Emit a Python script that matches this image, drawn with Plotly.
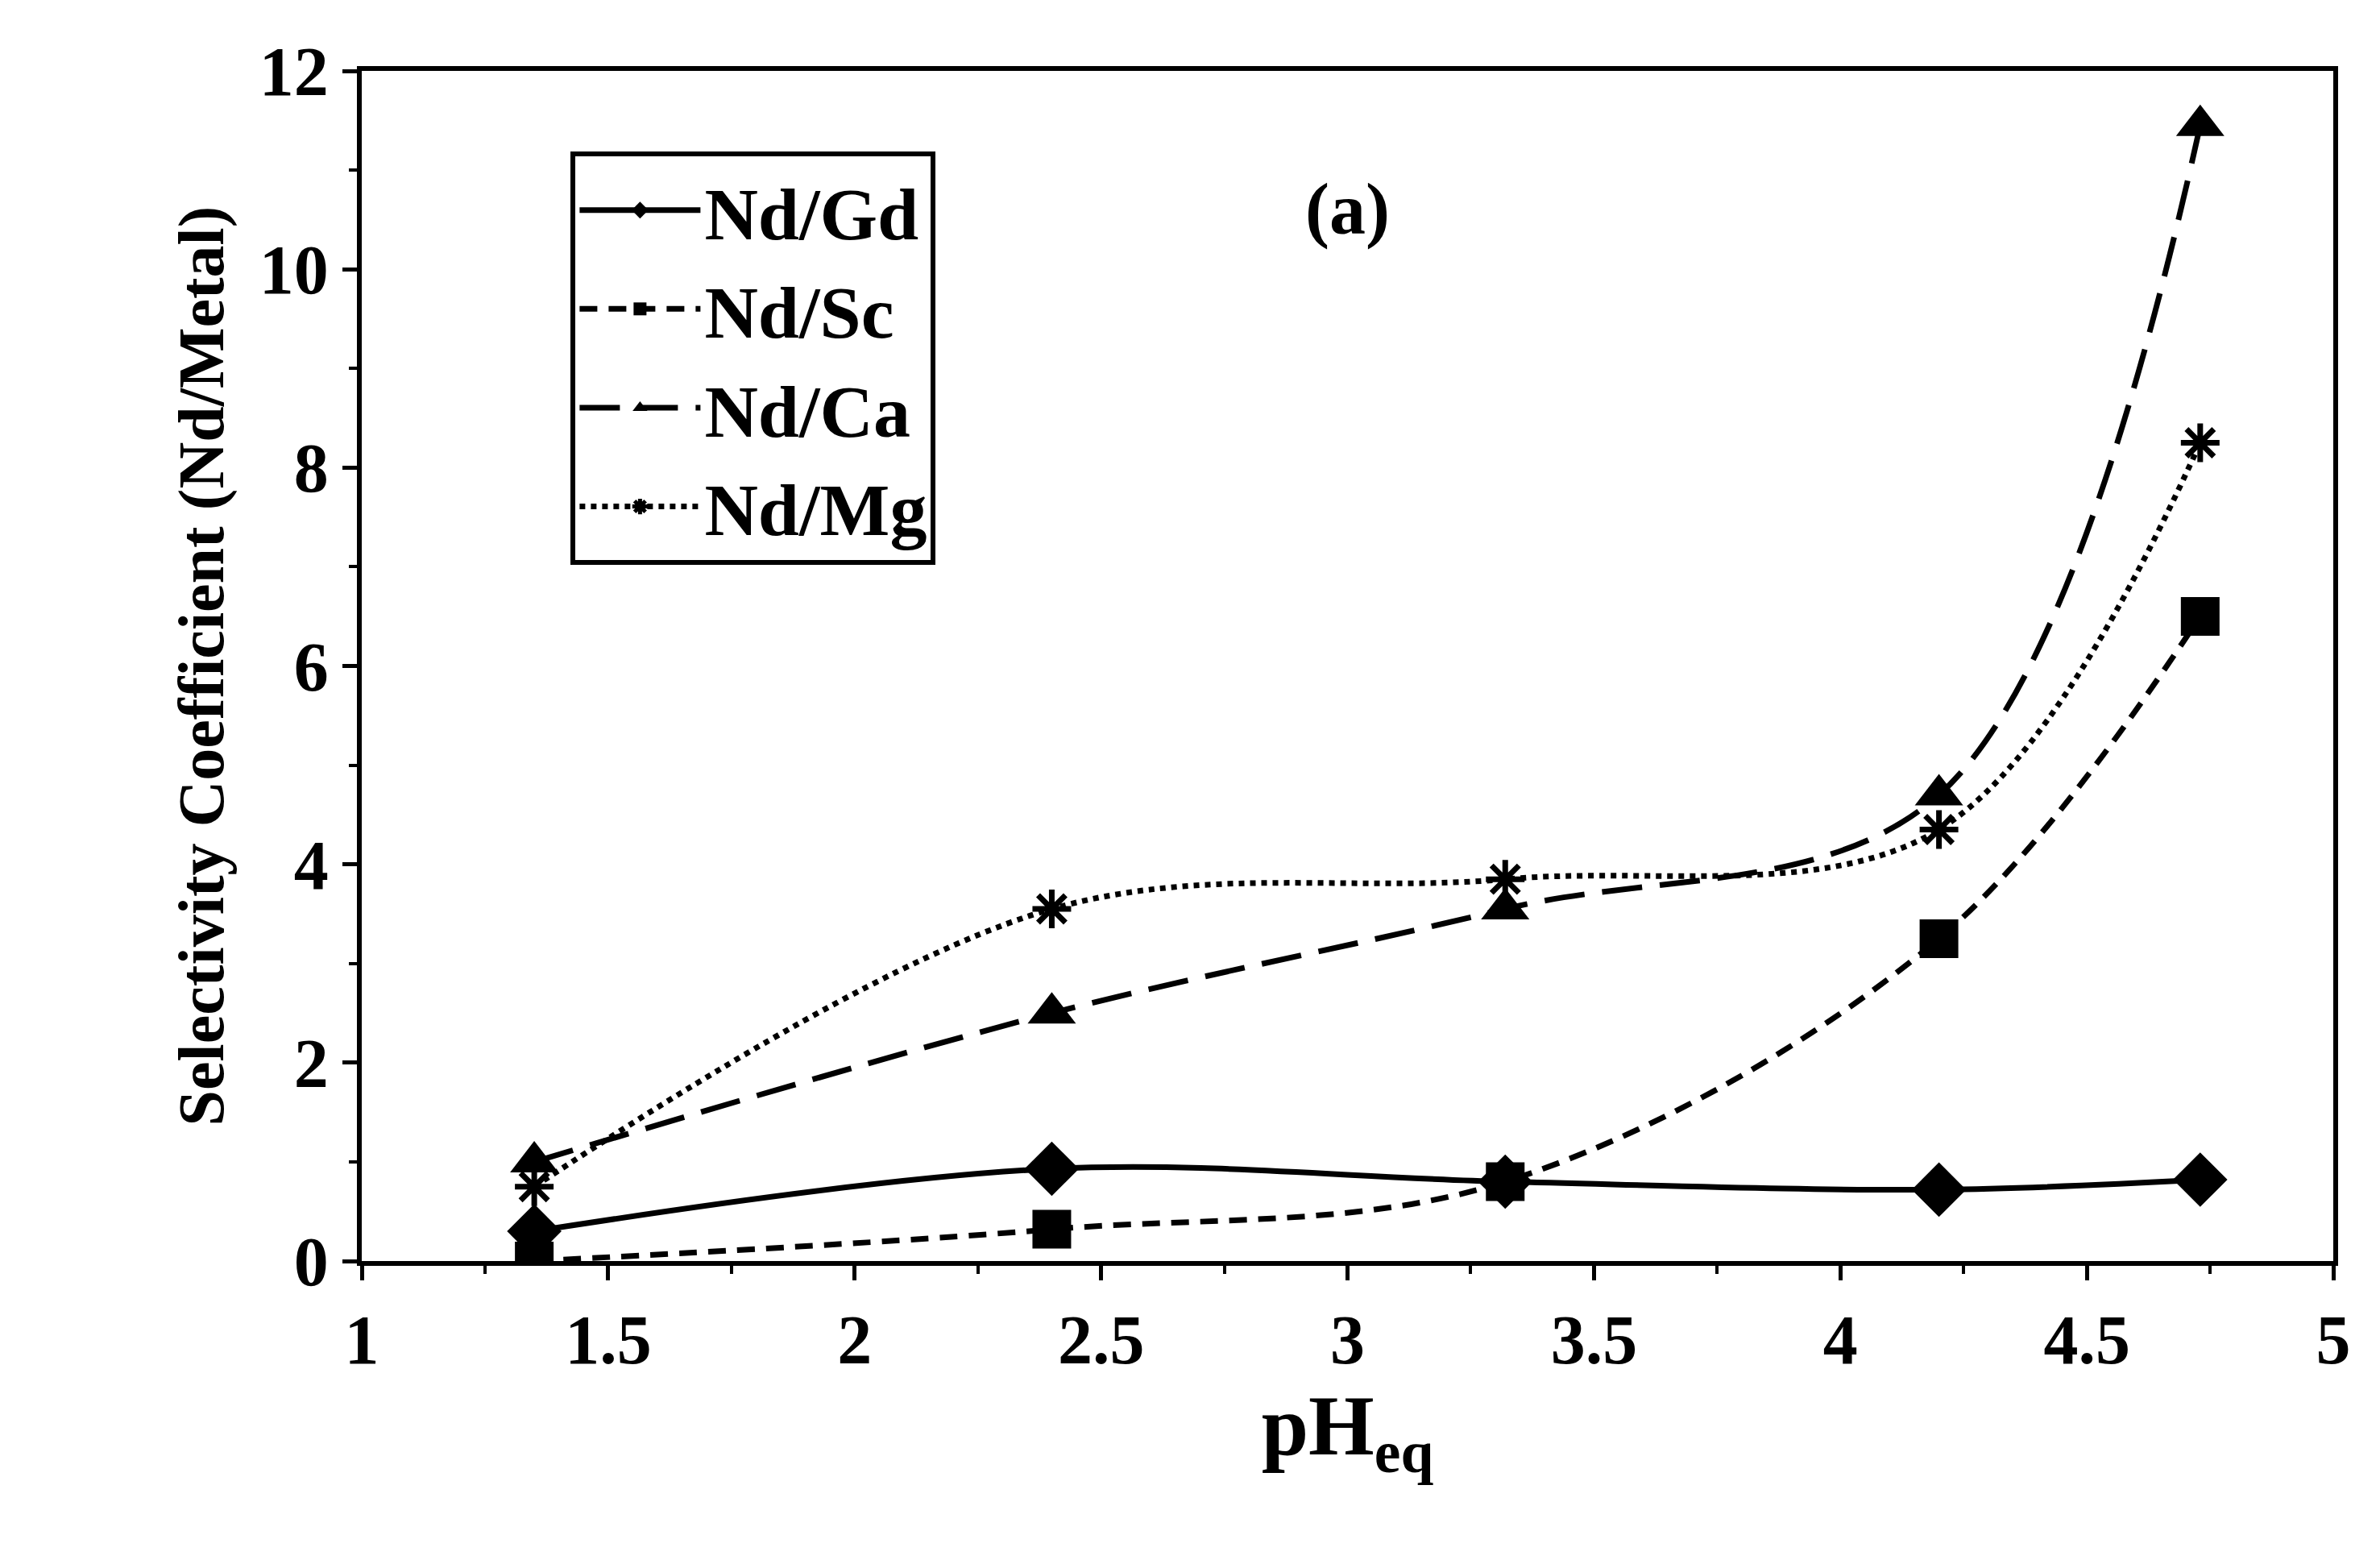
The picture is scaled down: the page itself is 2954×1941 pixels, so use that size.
import plotly.graph_objects as go

ph = [1.35, 2.4, 3.32, 4.2, 4.73]
nd_gd = [0.3, 0.93, 0.8, 0.72, 0.82]
nd_sc = [0.0, 0.32, 0.8, 3.25, 6.5]
nd_ca = [1.0, 2.5, 3.55, 4.7, 11.45]
nd_mg = [0.75, 3.55, 3.85, 4.35, 8.25]
x_ticks = [1, 1.5, 2, 2.5, 3, 3.5, 4, 4.5, 5]
y_ticks = [0, 2, 4, 6, 8, 10, 12]

FONT = "Liberation Serif"
fig = go.Figure()
series = [
    ("Nd/Gd", nd_gd, "solid", "diamond", 52),
    ("Nd/Sc", nd_sc, "22px,14px", "square", 48),
    ("Nd/Ca", nd_ca, "50px,22px", "triangle-up", 52),
    ("Nd/Mg", nd_mg, "dot", "asterisk-open", 40),
]
for name, y, dash, sym, sz in series:
    fig.add_trace(go.Scatter(
        x=ph, y=y, name="<b>" + name + "</b>", mode="lines+markers",
        line=dict(color="black", width=7, dash=dash, shape="spline", smoothing=1.0),
        marker=dict(symbol=sym, size=sz, color="black",
                    line=dict(color="black", width=7 if sym.startswith("asterisk") else 0)),
    ))

fig.add_annotation(x=3.0, y=10.6, text="<b>(a)</b>", showarrow=False,
                   font=dict(family=FONT, size=90, color="black"))

axis_common = dict(showline=True, linecolor="black", linewidth=6, mirror=True,
                   showgrid=False, zeroline=False, ticks="outside", ticklen=18,
                   tickwidth=5, tickcolor="black",
                   tickfont=dict(family=FONT, size=86, color="black"))
fig.update_xaxes(range=[1, 5], tickvals=x_ticks,
                 ticktext=["<b>%g</b>" % v for v in x_ticks],
                 minor=dict(dtick=0.25, ticks="outside", ticklen=10, tickwidth=4, tickcolor="black"),
                 title=dict(text="<b>pH<sub>eq</sub></b>", font=dict(family=FONT, size=105, color="black"), standoff=15),
                 **axis_common)
fig.update_yaxes(range=[0, 12], tickvals=y_ticks,
                 ticktext=["<b>%g</b>" % v for v in y_ticks],
                 minor=dict(dtick=1, ticks="outside", ticklen=10, tickwidth=4, tickcolor="black"),
                 title=dict(text="<b>Selectivity Coefficient (Nd/Metal)</b>", font=dict(family=FONT, size=80, color="black"), standoff=20),
                 **axis_common)
fig.update_layout(
    width=2954, height=1941, plot_bgcolor="white", paper_bgcolor="white",
    margin=dict(l=441, r=66, t=80, b=384),
    font=dict(family=FONT, color="black"),
    showlegend=True,
    legend=dict(x=0.106, y=0.932, xanchor="left", yanchor="top",
                bordercolor="black", borderwidth=6, bgcolor="white",
                font=dict(family=FONT, size=92, color="black"),
                itemwidth=150, tracegroupgap=18),
)
fig.write_html("out.html")
